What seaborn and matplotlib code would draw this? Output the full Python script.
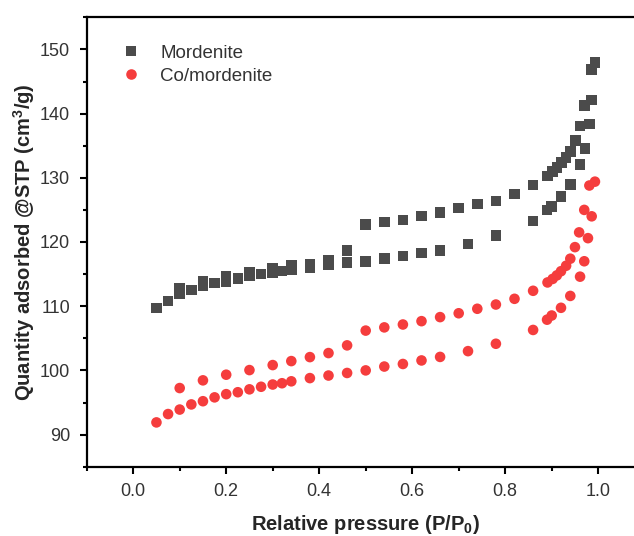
import matplotlib
matplotlib.use("Agg")
import matplotlib.pyplot as plt
import seaborn as sns
import pandas as pd
from matplotlib.ticker import MultipleLocator

# ---- data ----
mor_ads_x = [0.05, 0.075, 0.10, 0.125, 0.15, 0.175, 0.20, 0.225, 0.25, 0.275, 0.30, 0.32, 0.34,
             0.38, 0.42, 0.46, 0.50, 0.54, 0.58, 0.62, 0.66, 0.72, 0.78, 0.86, 0.89, 0.90, 0.92,
             0.94, 0.961, 0.972, 0.981, 0.986, 0.993]
mor_ads_y = [109.7, 110.8, 111.9, 112.5, 113.2, 113.6, 113.8, 114.3, 114.7, 115.0, 115.2, 115.45, 115.75,
             116.0, 116.4, 116.8, 117.0, 117.4, 117.8, 118.3, 118.7, 119.7, 121.0, 123.3, 125.0, 125.55, 127.1,
             129.0, 132.1, 134.6, 138.4, 142.1, 148.0]
mor_des_x = [0.985, 0.97, 0.961, 0.951, 0.941, 0.931, 0.921, 0.911, 0.902, 0.891, 0.86, 0.82, 0.78,
             0.74, 0.70, 0.66, 0.62, 0.58, 0.54, 0.50, 0.46, 0.42, 0.38, 0.34, 0.30, 0.25, 0.20, 0.15, 0.10]
mor_des_y = [146.9, 141.3, 138.1, 135.8, 134.1, 133.2, 132.4, 131.6, 131.0, 130.3, 128.9, 127.5, 126.4,
             125.9, 125.3, 124.6, 124.05, 123.4, 123.1, 122.7, 118.7, 117.2, 116.6, 116.3, 115.9, 115.35,
             114.7, 113.9, 112.75]

co_ads_x = [0.05, 0.075, 0.10, 0.125, 0.15, 0.175, 0.20, 0.225, 0.25, 0.275, 0.30, 0.32, 0.34,
            0.38, 0.42, 0.46, 0.50, 0.54, 0.58, 0.62, 0.66, 0.72, 0.78, 0.86, 0.89, 0.90, 0.92,
            0.94, 0.961, 0.97, 0.978, 0.986, 0.993]
co_ads_y = [91.9, 93.2, 93.9, 94.7, 95.2, 95.8, 96.3, 96.6, 97.05, 97.45, 97.8, 98.0, 98.3,
            98.8, 99.2, 99.6, 100.0, 100.6, 101.0, 101.55, 102.1, 103.0, 104.15, 106.3, 107.9, 108.55, 109.75,
            111.6, 114.6, 117.0, 120.6, 124.0, 129.4]
co_des_x = [0.981, 0.97, 0.959, 0.95, 0.94, 0.931, 0.92, 0.911, 0.902, 0.891, 0.86, 0.82, 0.78,
            0.74, 0.70, 0.66, 0.62, 0.58, 0.54, 0.50, 0.46, 0.42, 0.38, 0.34, 0.30, 0.25, 0.20, 0.15, 0.10]
co_des_y = [128.8, 125.0, 121.5, 119.2, 117.4, 116.3, 115.45, 114.8, 114.25, 113.7, 112.4, 111.15, 110.26,
            109.6, 108.9, 108.3, 107.67, 107.15, 106.7, 106.2, 103.9, 102.7, 102.07, 101.45, 100.83, 100.05,
            99.33, 98.45, 97.25]

series_names = ["Mordenite", "Co/mordenite"]
series_colors = {"Mordenite": "#4b4b4b", "Co/mordenite": "#f53d3d"}
series_markers = {"Mordenite": "s", "Co/mordenite": "o"}

df = pd.concat([
    pd.DataFrame({"x": mor_ads_x + mor_des_x, "y": mor_ads_y + mor_des_y, "Sample": "Mordenite"}),
    pd.DataFrame({"x": co_ads_x + co_des_x, "y": co_ads_y + co_des_y, "Sample": "Co/mordenite"}),
], ignore_index=True)

sns.set_theme(style="white")
plt.rcParams["font.family"] = ["Liberation Sans", "DejaVu Sans"]
plt.rcParams["mathtext.fontset"] = "custom"
plt.rcParams["mathtext.rm"] = "Liberation Sans"
plt.rcParams["mathtext.bf"] = "Liberation Sans:bold"

fig = plt.figure(figsize=(6.34, 5.36), dpi=100)
ax = fig.add_axes([86.7 / 634, 69.3 / 536, 558 / 634, 449.4 / 536])

sns.scatterplot(data=df, x="x", y="y", hue="Sample", style="Sample",
                hue_order=series_names, style_order=series_names,
                palette=series_colors, markers=series_markers,
                s=58, edgecolor="none", linewidth=0, ax=ax, zorder=3)

ax.set_xlim(-0.1, 1.1)
ax.set_ylim(85, 155)
ax.xaxis.set_major_locator(MultipleLocator(0.2))
ax.xaxis.set_minor_locator(MultipleLocator(0.1))
ax.yaxis.set_major_locator(MultipleLocator(10))
ax.yaxis.set_minor_locator(MultipleLocator(5))
ax.set_yticks([90, 100, 110, 120, 130, 140, 150])
ax.set_xticks([0.0, 0.2, 0.4, 0.6, 0.8, 1.0])
ax.set_xticklabels(["0.0", "0.2", "0.4", "0.6", "0.8", "1.0"])

ax.tick_params(axis="both", which="major", direction="out", length=5, width=1.5,
               labelsize=13, labelcolor="#333333", color="black", pad=7,
               bottom=True, left=True, top=False, right=False)
ax.tick_params(axis="both", which="minor", direction="out", length=3, width=1.5,
               color="black", bottom=True, left=True, top=False, right=False)
for sp in ax.spines.values():
    sp.set_linewidth(1.6)
    sp.set_color("black")

ax.set_xlabel(r"Relative pressure (P/P$\mathbf{_0}$)", fontsize=14.5, fontweight="bold", labelpad=9)
ax.set_ylabel(r"Quantity adsorbed @STP (cm$\mathbf{^3}$/g)", fontsize=14.5, fontweight="bold", labelpad=2)

leg = ax.legend(loc="upper left", bbox_to_anchor=(0.016, 0.977), frameon=False,
                fontsize=13.5, handletextpad=0.55, labelspacing=0.33, markerscale=1.0)
for t in leg.get_texts():
    t.set_color("#333333")

fig.savefig("out.png", dpi=100)
